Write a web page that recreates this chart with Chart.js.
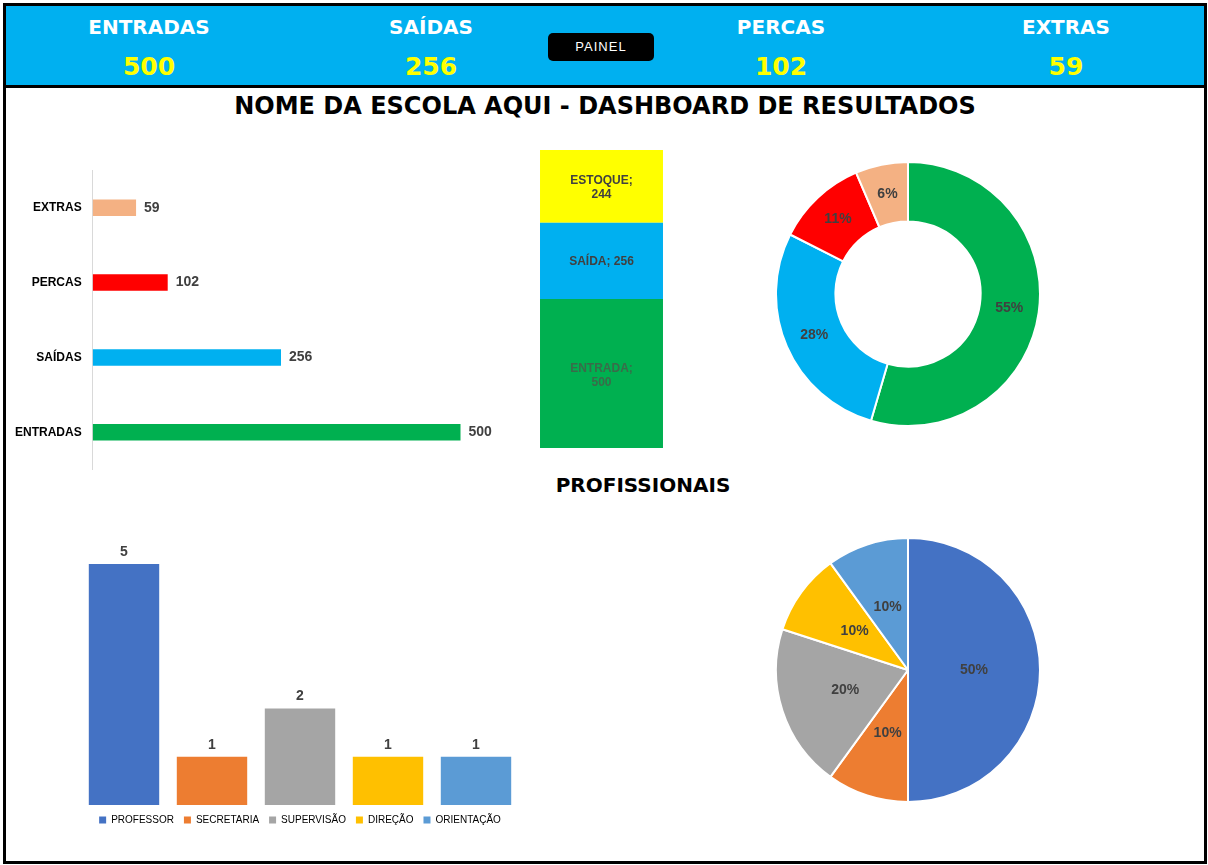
<!DOCTYPE html>
<html><head><meta charset="utf-8">
<script src="https://cdn.jsdelivr.net/npm/chart.js@4"></script>
<style>
body{margin:0;background:#fff;font-family:"Liberation Sans",Arial,sans-serif}
#frame{position:absolute;left:3px;top:3px;width:1198px;height:855px;border:3px solid #000}
#head{position:absolute;left:0;top:0;width:1198px;height:79px;background:#00B0F0;border-bottom:3px solid #000}
.k{position:absolute;width:200px;text-align:center;font-weight:bold;color:#fff;font-size:20px;font-family:"DejaVu Sans",sans-serif}
.v{position:absolute;width:200px;text-align:center;font-weight:bold;color:#FFFF00;font-size:25px;font-family:"DejaVu Sans",sans-serif}
#painel{position:absolute;left:542px;top:27px;width:106px;height:28px;background:#000;border-radius:5px;color:#fff;font-size:13px;text-align:center;line-height:28px;letter-spacing:1px}
.t{position:absolute;font-weight:bold;color:#000;text-align:center;font-family:"DejaVu Sans",sans-serif}
canvas{position:absolute}
</style></head><body>
<div id="frame">
<div id="head">
<div class="k" style="left:43px;top:9px">ENTRADAS</div><div class="v" style="left:43px;top:46px">500</div>
<div class="k" style="left:325px;top:9px">SAÍDAS</div><div class="v" style="left:325px;top:46px">256</div>
<div class="k" style="left:675px;top:9px">PERCAS</div><div class="v" style="left:675px;top:46px">102</div>
<div class="k" style="left:960px;top:9px">EXTRAS</div><div class="v" style="left:960px;top:46px">59</div>
<div id="painel">PAINEL</div>
</div>
<div class="t" style="left:0;width:1198px;top:86px;font-size:24px">NOME DA ESCOLA AQUI - DASHBOARD DE RESULTADOS</div>
<div class="t" style="left:437px;width:400px;top:467px;font-size:20px">PROFISSIONAIS</div>
</div>
<canvas id="c1" style="left:12px;top:160px" width="520" height="320"></canvas>
<canvas id="c2" style="left:530px;top:150px" width="143" height="298"></canvas>
<canvas id="c3" style="left:775px;top:161px" width="266" height="266"></canvas>
<canvas id="c4" style="left:80px;top:520px" width="450" height="315"></canvas>
<canvas id="c5" style="left:775px;top:537px" width="266" height="266"></canvas>
<script>
const resumoLabels=['EXTRAS','PERCAS','SAÍDAS','ENTRADAS'];
const resumoValores=[59,102,256,500];
const resumoCores=['#F4B183','#FF0000','#00B0F0','#00B050'];
const estoqueLabels=['ENTRADA','SAÍDA','ESTOQUE'];
const estoqueValores=[500,256,244];
const estoqueCores=['#00B050','#00B0F0','#FFFF00'];
const donutLabels=['ENTRADAS','SAÍDAS','PERCAS','EXTRAS'];
const donutValores=[500,256,102,59];
const donutCores=['#00B050','#00B0F0','#FF0000','#F4B183'];
const profLabels=['PROFESSOR','SECRETARIA','SUPERVISÃO','DIREÇÃO','ORIENTAÇÃO'];
const profValores=[5,1,2,1,1];
const profCores=['#4472C4','#ED7D31','#A5A5A5','#FFC000','#5B9BD5'];

const F='"Liberation Sans",Arial,sans-serif';
Chart.defaults.font.family=F;
Chart.defaults.animation=false;

// rótulos de dados
function rotulos(fmt,pos){
  return {id:'rot',afterDatasetsDraw(ch){
    const c=ch.ctx;
    ch.data.datasets.forEach((ds,di)=>{
      ch.getDatasetMeta(di).data.forEach((el,i)=>{
        const v=ds.data[i];if(v==null)return;
        c.save();c.fillStyle='#404040';c.font='bold 14px '+F;
        pos(c,el,fmt(v,i,ds,di),i,di);c.restore();
      });
    });
  }};
}
const pct=(v,i,ds)=>Math.round(v*100/ds.data.reduce((a,b)=>a+b,0))+'%';
const arcPos=(c,el,t)=>{const p=el.tooltipPosition();c.textAlign='center';c.textBaseline='middle';c.fillText(t,p.x,p.y);};

new Chart(c1,{type:'bar',data:{labels:resumoLabels,datasets:[{data:resumoValores,backgroundColor:resumoCores,barPercentage:0.22,categoryPercentage:1}]},
 options:{indexAxis:'y',responsive:false,layout:{padding:{right:20,top:0,bottom:0}},plugins:{legend:{display:false},tooltip:{enabled:false}},
  scales:{x:{display:false,min:0,max:570},y:{grid:{display:false},border:{color:'#D9D9D9'},ticks:{color:'#000',font:{size:12,weight:'bold'}}}}},
 plugins:[rotulos(v=>v,(c,el,t)=>{c.textBaseline='middle';c.fillText(t,el.x+8,el.y);})]});

new Chart(c2,{type:'bar',data:{labels:[''],datasets:estoqueLabels.map((l,i)=>({label:l,data:[estoqueValores[i]],backgroundColor:estoqueCores[i],barPercentage:0.86,categoryPercentage:1}))},
 options:{responsive:false,plugins:{legend:{display:false},tooltip:{enabled:false}},scales:{x:{display:false,stacked:true},y:{display:false,stacked:true,min:0,max:1000}}},
 plugins:[rotulos((v,i,ds)=>ds.label+';',(c,el,t,i,di)=>{c.textAlign='center';c.font='bold 12px '+F;c.fillStyle=di===0?'#3a6b4a':'#404040';const y=(el.y+el.base)/2;
   const v=estoqueValores[di];
   if(di===1){c.fillText(t+' '+v,el.x,y+4);}else{c.fillText(t,el.x,y-2);c.fillText(v,el.x,y+12);}})]});

new Chart(c3,{type:'doughnut',data:{labels:donutLabels,datasets:[{data:donutValores,backgroundColor:donutCores,borderColor:'#fff',borderWidth:2}]},
 options:{responsive:false,cutout:'55%',plugins:{legend:{display:false},tooltip:{enabled:false}}},plugins:[rotulos(pct,arcPos)]});

new Chart(c4,{type:'bar',data:{labels:profLabels,datasets:[{data:profValores,backgroundColor:profCores,barPercentage:0.8,categoryPercentage:1}]},
 options:{responsive:false,layout:{padding:{top:44,left:0,right:10,bottom:0}},plugins:{legend:{display:true,position:'bottom',
   labels:{boxWidth:7,boxHeight:7,font:{size:10},color:'#404040',padding:10,
   generateLabels:ch=>profLabels.map((l,i)=>({text:l,fillStyle:profCores[i],strokeStyle:profCores[i],lineWidth:0,index:i}))}},tooltip:{enabled:false}},
  scales:{x:{display:false},y:{display:false,min:0,max:5}}},
 plugins:[rotulos(v=>v,(c,el,t)=>{c.textAlign='center';c.fillText(t,el.x,el.y-12);})]});

new Chart(c5,{type:'pie',data:{labels:profLabels,datasets:[{data:profValores,backgroundColor:profCores,borderColor:'#fff',borderWidth:2}]},
 options:{responsive:false,plugins:{legend:{display:false},tooltip:{enabled:false}}},plugins:[rotulos(pct,arcPos)]});
</script>
</body></html>
